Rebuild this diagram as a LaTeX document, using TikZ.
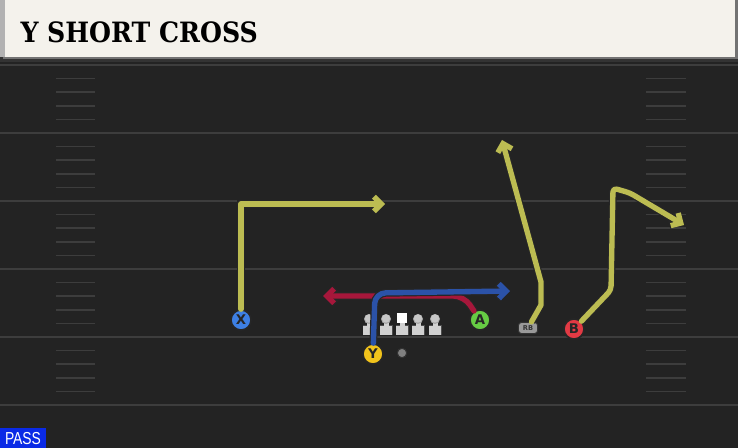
\documentclass[tikz,border=0pt]{standalone}
\usepackage{fontspec}
\usetikzlibrary{arrows.meta}
\newfontfamily\titlefont{DejaVu Serif Condensed}
\newfontfamily\tagfont{Liberation Sans}
\newfontfamily\dotfont{DejaVu Sans}

\definecolor{fieldgray}{HTML}{232323}
\definecolor{yardgray}{HTML}{3D3D3D}
\definecolor{headbeige}{HTML}{F4F2EC}
\definecolor{routeyellow}{HTML}{BCBC52}
\definecolor{routered}{HTML}{A6173B}
\definecolor{routeblue}{HTML}{2B52A8}
\definecolor{passblue}{HTML}{0A2AE6}
\definecolor{xblue}{HTML}{3D7FE3}
\definecolor{agreen}{HTML}{66CC44}
\definecolor{yyellow}{HTML}{F2C31B}
\definecolor{bred}{HTML}{E23A44}

\tikzset{every picture/.style={line width=0.75pt}}
\tikzset{
  route/.style={line width=4pt, line join=round, line cap=round,
    preaction={draw=black!85, line width=5.8pt},
    -{Straight Barb[length=5.5pt,width=11pt]}},
  player/.style={circle, draw=black!85, line width=1.2pt, minimum size=15pt,
    inner sep=0pt, font=\dotfont\bfseries\fontsize{10}{10}\selectfont, text=black!85},
  hashmark/.style={draw=yardgray, line width=1.3pt},
}

\begin{document}
\begin{tikzpicture}[x=0.75pt,y=0.75pt,yscale=-1,xscale=1]
\useasboundingbox (0,0) rectangle (738,448);

%Field
\fill[fieldgray] (0,0) rectangle (738,448);
\fill[black!80] (0,56) rectangle (738,62);
%Yard lines
\foreach \yy in {65,133,201,269,337,405}
  \draw[yardgray, line width=1.6pt] (0,\yy) -- (738,\yy);
%Hash marks
\foreach \yy in {65,133,201,269,337}
  \foreach \k in {1,2,3,4} {
    \draw[hashmark] (56,\yy+13.6*\k) -- (95,\yy+13.6*\k);
    \draw[hashmark] (646,\yy+13.6*\k) -- (686,\yy+13.6*\k);
  }

%Header
\fill[black!55] (3,0) rectangle (738,59);
\fill[headbeige] (0,0) rectangle (735,57);
\fill[black!30] (0,0) rectangle (5,57);
% Text Node
\node[anchor=west, inner sep=0pt] (title) at (20,32)
  {\titlefont\bfseries\fontsize{21}{21}\selectfont Y SHORT CROSS};

%Linemen
\foreach \lx in {369,386,418,435} {
  \fill[black!70] (\lx-6.5,325.5) rectangle (\lx+6.5,335.5);
  \fill[black!18] (\lx-6,326) rectangle (\lx+6,335);
  \fill[black!18] (\lx-2.5,319) rectangle (\lx+2.5,327);
  \fill[black!35] (\lx,319) circle (5);
  \fill[black!22] (\lx,318.5) circle (4.2);
}
\fill[black!70] (395.5,325.5) rectangle (408.5,335.5);
\fill[black!18] (396,326) rectangle (408,335);
\fill[black!18] (399.5,320) rectangle (404.5,327);
\fill[white] (397,313) rectangle (407,323);

% Ball
\node[circle, fill=black!50, draw=black!80, minimum size=7pt, inner sep=0pt] (ball) at (402,353) {};

% Players
\node[player, fill=xblue] (X) at (241,320) {X};
\node[player, fill=agreen] (A) at (480,320) {A};
\node[player, fill=yyellow] (Y) at (373,354) {Y};
\node[player, fill=bred] (B) at (574,329) {B};
\node[rounded corners=2.5pt, fill=black!40, draw=black!80, minimum width=14.5pt, minimum height=8.5pt,
  inner sep=0pt, text=black!80, font=\dotfont\bfseries\fontsize{5}{5}\selectfont] (RB) at (528,328) {RB};

% Route points
\coordinate (xcut) at (241,204);
\coordinate (xend) at (385,204);
\coordinate (ycut) at (375,293);
\coordinate (yend) at (510,291);
\coordinate (acut) at (464,296);
\coordinate (aend) at (323,296);
\coordinate (rbbend) at (541,305);
\coordinate (rbup) at (541,282);
\coordinate (rbend) at (502,140);
\coordinate (bbend) at (611,290);
\coordinate (btop) at (613,188);
\coordinate (bend) at (684,225);

%Routes
\draw[route, routered, rounded corners=8pt] (A) -- (acut) -- (aend);
\draw[route, routeblue, rounded corners=8pt] (Y) -- (ycut) -- (yend);
\draw[route, routeyellow] (X) -- (xcut) -- (xend);
\draw[route, routeyellow] (RB) -- (rbbend) -- (rbup) -- (rbend);
\draw[route, routeyellow, rounded corners=3pt] (B) -- (bbend) -- (btop) -- (630,193) -- (bend);

% PASS tag
\fill[passblue] (0,428) rectangle (46,448);
\node[anchor=center, inner sep=0pt, text=white, xscale=0.8] (pass) at (23,438.5)
  {\tagfont\fontsize{13}{13}\selectfont PASS};

\end{tikzpicture}
\end{document}
